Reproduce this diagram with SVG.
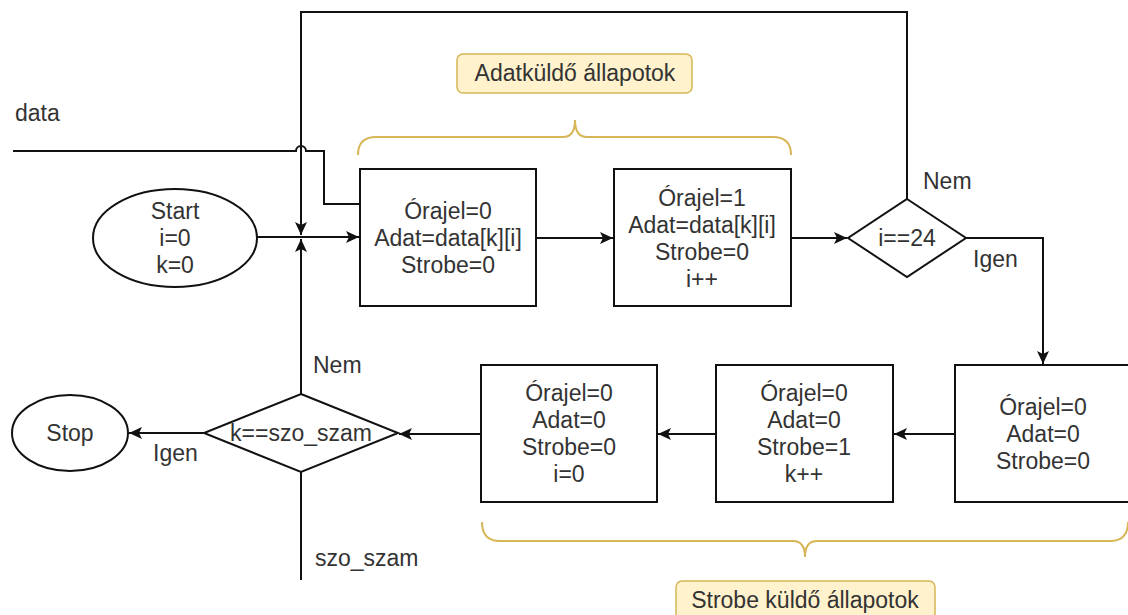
<svg xmlns="http://www.w3.org/2000/svg" width="1128" height="615" viewBox="0 0 1128 615">
  <style>
    .shape { fill: #ffffff; stroke: #111111; stroke-width: 2; }
    .edge { fill: none; stroke: #111111; stroke-width: 2; }
    .brace { fill: none; stroke: #d6b656; stroke-width: 2; }
    .note { fill: #fff2cc; stroke: #d6b656; stroke-width: 1.5; }
    text { font-family: "Liberation Sans", Arial, sans-serif; font-size: 23px; fill: #333333; }
    .c { text-anchor: middle; dominant-baseline: central; }
  </style>
  <defs>
    <marker id="arrow" markerUnits="userSpaceOnUse" markerWidth="14" markerHeight="12" refX="13" refY="6" orient="auto">
      <path d="M0,0 L13,6 L0,12 L3,6 Z" fill="#111111"/>
    </marker>
  </defs>

  <!-- connectors -->
  <g id="connectors">
    <!-- data input line, hopping over the loop-back line -->
    <path class="edge" d="M13,151 L296,151 A5,5 0 0 1 306,151 L324,151 L324,204 L360,204"/>
    <path class="edge" d="M257,237 L359,237" marker-end="url(#arrow)"/>
    <path class="edge" d="M536,238 L613,238" marker-end="url(#arrow)"/>
    <path class="edge" d="M791,238 L847,238" marker-end="url(#arrow)"/>
    <!-- i==24 : Nem loops back -->
    <path class="edge" d="M907,199 L907,12 L301,12 L301,235" marker-end="url(#arrow)"/>
    <!-- i==24 : Igen -->
    <path class="edge" d="M966,238 L1043,238 L1043,364" marker-end="url(#arrow)"/>
    <path class="edge" d="M955,434 L894,434" marker-end="url(#arrow)"/>
    <path class="edge" d="M716,434 L658,434" marker-end="url(#arrow)"/>
    <path class="edge" d="M481,434 L399,434" marker-end="url(#arrow)"/>
    <!-- k==szo_szam : Igen -->
    <path class="edge" d="M204,433 L129,433" marker-end="url(#arrow)"/>
    <!-- k==szo_szam : Nem -->
    <path class="edge" d="M301,394 L301,239" marker-end="url(#arrow)"/>
    <!-- szo_szam input -->
    <path class="edge" d="M301,472 L301,580"/>
  </g>

  <g id="labels">
    <text x="15" y="121">data</text>
    <text x="923" y="189">Nem</text>
    <text x="973" y="267">Igen</text>
    <text x="313" y="373">Nem</text>
    <text x="153" y="461">Igen</text>
    <text x="315" y="566">szo_szam</text>
  </g>

  <g id="start">
    <ellipse class="shape" cx="175" cy="238" rx="82" ry="49"/>
    <text class="c" x="175" y="211">Start</text>
    <text class="c" x="175" y="238">i=0</text>
    <text class="c" x="175" y="265">k=0</text>
  </g>

  <g id="state1">
    <rect class="shape" x="360" y="169" width="176" height="137"/>
    <text class="c" x="448" y="211">Órajel=0</text>
    <text class="c" x="448" y="238">Adat=data[k][i]</text>
    <text class="c" x="448" y="265">Strobe=0</text>
  </g>

  <g id="state2">
    <rect class="shape" x="614" y="169" width="177" height="137"/>
    <text class="c" x="702" y="198">Órajel=1</text>
    <text class="c" x="702" y="225">Adat=data[k][i]</text>
    <text class="c" x="702" y="252">Strobe=0</text>
    <text class="c" x="702" y="279">i++</text>
  </g>

  <g id="check-i">
    <polygon class="shape" points="907,199 966,238 907,277 848,238"/>
    <text class="c" x="907" y="238">i==24</text>
  </g>

  <g id="state3">
    <rect class="shape" x="955" y="365" width="176" height="137"/>
    <text class="c" x="1043" y="407">Órajel=0</text>
    <text class="c" x="1043" y="434">Adat=0</text>
    <text class="c" x="1043" y="461">Strobe=0</text>
  </g>

  <g id="state4">
    <rect class="shape" x="716" y="365" width="177" height="137"/>
    <text class="c" x="804" y="393">Órajel=0</text>
    <text class="c" x="804" y="420">Adat=0</text>
    <text class="c" x="804" y="447">Strobe=1</text>
    <text class="c" x="804" y="474">k++</text>
  </g>

  <g id="state5">
    <rect class="shape" x="481" y="365" width="176" height="137"/>
    <text class="c" x="569" y="393">Órajel=0</text>
    <text class="c" x="569" y="420">Adat=0</text>
    <text class="c" x="569" y="447">Strobe=0</text>
    <text class="c" x="569" y="474">i=0</text>
  </g>

  <g id="check-k">
    <polygon class="shape" points="301,394 398,433 301,472 204,433"/>
    <text class="c" x="301" y="433">k==szo_szam</text>
  </g>

  <g id="stop">
    <ellipse class="shape" cx="70" cy="433" rx="58" ry="38"/>
    <text class="c" x="70" y="433">Stop</text>
  </g>

  <g id="data-states">
    <path class="brace" d="M358,155 Q358,137 376,137 L563,137 Q575,137 575,120 Q575,137 587,137 L773,137 Q791,137 791,155"/>
    <rect class="note" x="457" y="54" width="235" height="39" rx="6"/>
    <text class="c" x="575" y="73">Adatküldő állapotok</text>
  </g>

  <g id="strobe-states">
    <path class="brace" d="M482,522 Q482,541 500,541 L793,541 Q805,541 805,557 Q805,541 817,541 L1110,541 Q1128,541 1128,522"/>
    <rect class="note" x="676" y="581" width="259" height="39" rx="6"/>
    <text class="c" x="805" y="600">Strobe küldő állapotok</text>
  </g>
</svg>
